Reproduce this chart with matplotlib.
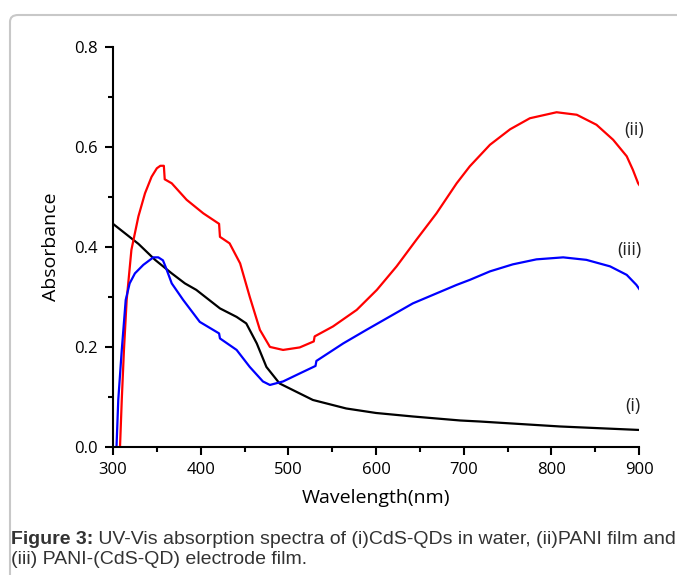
import matplotlib
matplotlib.use("Agg")
import matplotlib.pyplot as plt
from matplotlib.patches import FancyBboxPatch
from matplotlib.ticker import MultipleLocator

# ==========================================================
#  data
# ==========================================================
wl_i = [300, 329, 348, 367, 382, 395, 422, 441, 452, 464, 475, 490, 513, 528,
        566, 600, 642, 696, 718, 810, 901]
abs_i = [0.446, 0.406, 0.374, 0.347, 0.327, 0.314, 0.277, 0.260, 0.247, 0.207,
         0.160, 0.127, 0.107, 0.094, 0.077, 0.068, 0.061, 0.053, 0.051, 0.041,
         0.034]

wl_ii = [306, 308, 310, 312.5, 315.6, 321, 329, 336.5, 344, 350, 354, 358, 359,
         367, 384, 403, 421, 422, 433, 445, 456, 467.6, 479, 494, 513, 529, 530,
         551, 578, 601, 623.5, 646, 669, 692, 707, 730, 753, 775.5, 806, 829,
         851.5, 870.5, 886, 893, 899, 901]
abs_ii = [-0.05, 0.0, 0.094, 0.194, 0.294, 0.394, 0.461, 0.507, 0.540, 0.557,
          0.562, 0.562, 0.535, 0.527, 0.494, 0.467, 0.446, 0.420, 0.407, 0.367,
          0.300, 0.234, 0.200, 0.194, 0.199, 0.211, 0.221, 0.241, 0.274, 0.314,
          0.361, 0.414, 0.467, 0.527, 0.561, 0.604, 0.635, 0.657, 0.669, 0.664,
          0.644, 0.614, 0.581, 0.554, 0.527, 0.522]

wl_iii = [302, 304, 306, 310, 314.5, 319, 325, 334.6, 346, 351.7, 357, 360, 367,
          380, 399, 421, 422, 441, 456, 471, 479, 494, 513, 531, 532, 562.6, 589,
          616, 642, 669, 692, 707, 730, 756, 783, 813.5, 840, 867, 886, 897, 901]
abs_iii = [-0.05, 0.0, 0.094, 0.194, 0.294, 0.327, 0.347, 0.364, 0.379, 0.379,
           0.373, 0.360, 0.327, 0.294, 0.250, 0.227, 0.217, 0.194, 0.160, 0.131,
           0.124, 0.131, 0.147, 0.162, 0.172, 0.207, 0.234, 0.261, 0.287, 0.307,
           0.324, 0.334, 0.351, 0.365, 0.375, 0.379, 0.374, 0.361, 0.344, 0.324,
           0.314]

curve_labels = ["(i)", "(ii)", "(iii)"]
label_pos = [(893, 0.081), (895, 0.633), (889, 0.393)]

caption_bold = "Figure 3:"
caption_line1 = " UV-Vis absorption spectra of (i)CdS-QDs in water, (ii)PANI film and"
caption_line2 = "(iii) PANI-(CdS-QD) electrode film."

# ==========================================================
#  figure
# ==========================================================
fig = plt.figure(figsize=(6.77, 5.75), dpi=100)

# rounded gray frame
frame = FancyBboxPatch((10 / 677, -0.1), 1.2, 1.1 - 15 / 575,
                       boxstyle="round,pad=0,rounding_size=0.012",
                       transform=fig.transFigure, facecolor="none",
                       edgecolor="#c8c8c8", linewidth=1.5, zorder=-1)
fig.patches.append(frame)

ax = fig.add_axes([113 / 677, 1 - 447 / 575, (639 - 113) / 677, (447 - 46.7) / 575])
ax.patch.set_alpha(0)

ax.plot(wl_i, abs_i, color="black", lw=1.6)
ax.plot(wl_ii, abs_ii, color="red", lw=1.6)
ax.plot(wl_iii, abs_iii, color="blue", lw=1.6)

for txt, (x, y) in zip(curve_labels, label_pos):
    ax.text(x, y, txt, ha="center", va="center", fontsize=13,
            family="Open Sans", color="#222222")

ax.set_xlim(300, 900)
ax.set_ylim(0, 0.8)
ax.xaxis.set_minor_locator(MultipleLocator(50))
ax.yaxis.set_minor_locator(MultipleLocator(0.1))
ax.set_xticks([300, 400, 500, 600, 700, 800, 900])
ax.set_xticklabels(["300", "400", "500", "600", "700", "800", "900"])
ax.set_yticks([0.0, 0.2, 0.4, 0.6, 0.8])
ax.set_yticklabels(["0.0", "0.2", "0.4", "0.6", "0.8"])

for s in ["top", "right"]:
    ax.spines[s].set_visible(False)
for s in ["left", "bottom"]:
    ax.spines[s].set_linewidth(1.5)

ax.tick_params(which="major", direction="out", length=6, width=1.5,
               labelsize=12, pad=5)
ax.tick_params(which="minor", direction="out", length=3.5, width=1.5)
for lab in ax.get_xticklabels() + ax.get_yticklabels():
    lab.set_family("Open Sans")

ax.set_xlabel("Wavelength(nm)", fontsize=14, family="Open Sans", labelpad=8)
ax.set_ylabel("Absorbance", fontsize=14, family="Open Sans", labelpad=10)

# caption
renderer = fig.canvas.get_renderer()
t1 = fig.text(11 / 677, 1 - 540 / 575, caption_bold, fontsize=14,
              family="Liberation Sans", weight="bold", va="center", color="#333333")
bb = t1.get_window_extent(renderer=renderer)
fig.text(bb.x1 / fig.bbox.width, 1 - 540 / 575, caption_line1, fontsize=14,
         family="Liberation Sans", va="center", color="#333333")
fig.text(11 / 677, 1 - 560 / 575, caption_line2, fontsize=14,
         family="Liberation Sans", va="center", color="#333333")

fig.savefig("out.png", dpi=100)
